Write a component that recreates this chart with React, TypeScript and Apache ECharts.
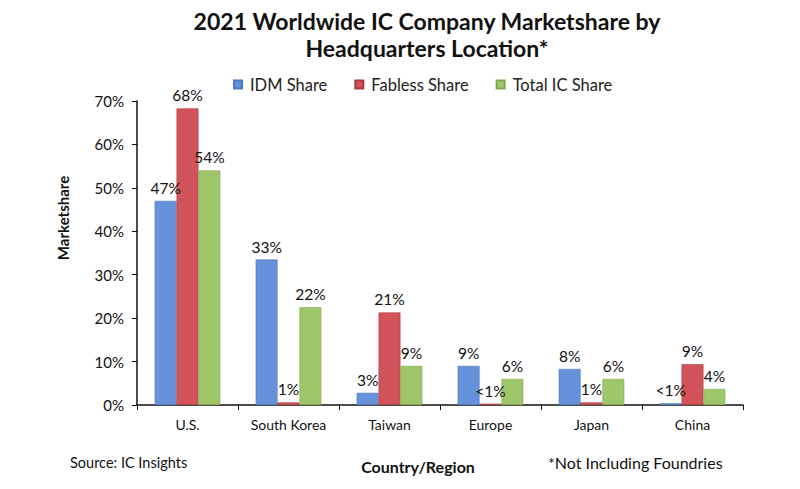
import React, { useEffect, useRef } from "react";
import * as echarts from "echarts";

const categories = ["U.S.", "South Korea", "Taiwan", "Europe", "Japan", "China"];
const idmShare = [47, 33.5, 2.8, 9, 8.3, 0.4];
const fablessShare = [68.3, 0.6, 21.3, 0.3, 0.6, 9.4];
const totalShare = [54, 22.5, 9, 6, 6, 3.7];
const idmLabels = ["47%", "33%", "3%", "9%", "8%", "<1%"];
const fablessLabels = ["68%", "1%", "21%", "<1%", "1%", "9%"];
const totalLabels = ["54%", "22%", "9%", "6%", "6%", "4%"];
const yTicks = [0, 10, 20, 30, 40, 50, 60, 70];

const FONT = "Lato, 'Open Sans', sans-serif";

export default function App() {
  const ref = useRef<HTMLDivElement>(null);
  useEffect(() => {
    if (!ref.current) return;
    const chart = echarts.init(ref.current, undefined, { renderer: "svg" });
    const mkSeries = (name: string, data: number[], labels: string[], color: string, border: string) => ({
      name,
      type: "bar",
      data,
      barGap: "0%",
      barCategoryGap: "35%",
      itemStyle: { color, borderColor: border, borderWidth: 0.6 },
      label: {
        show: true,
        position: "top",
        distance: 5,
        color: "#111",
        fontFamily: FONT,
        fontSize: 15.5,
        formatter: (p: any) => labels[p.dataIndex],
      },
    });
    chart.setOption({
      animation: false,
      backgroundColor: "#fff",
      textStyle: { fontFamily: FONT },
      title: {
        text: "2021 Worldwide IC Company Marketshare by\nHeadquarters Location*",
        left: 422,
        top: 2,
        textAlign: "center",
        textStyle: { fontFamily: FONT, fontWeight: "bold", fontSize: 23, lineHeight: 27, color: "#111" },
      },
      legend: {
        top: 71,
        left: 228,
        itemWidth: 8,
        itemHeight: 8,
        itemGap: 27,
        icon: "rect",
        textStyle: { fontFamily: FONT, fontSize: 16.5, color: "#222", padding: [0, 0, 0, 3] },
        data: ["IDM Share", "Fabless Share", "Total IC Share"],
      },
      grid: { left: 137, right: 57, top: 101, bottom: 84, containLabel: false, outerBoundsMode: "none" },
      xAxis: {
        type: "category",
        data: categories,
        axisLine: { lineStyle: { color: "#111", width: 1.5 } },
        axisTick: { show: true, length: 5, lineStyle: { color: "#111" }, alignWithLabel: false },
        axisLabel: { color: "#111", fontFamily: FONT, fontSize: 14, margin: 12 },
      },
      yAxis: {
        type: "value",
        min: 0,
        max: 70,
        interval: 10,
        axisLine: { show: true, lineStyle: { color: "#111", width: 1.5 } },
        axisTick: { show: true, inside: false, length: 5, lineStyle: { color: "#111" } },
        splitLine: { show: false },
        axisLabel: {
          color: "#111",
          fontFamily: FONT,
          fontSize: 15,
          margin: 13,
          formatter: (v: number) => (yTicks.includes(v) ? v + "%" : ""),
        },
      },
      graphic: [
        {
          type: "text",
          x: 63,
          y: 218,
          rotation: Math.PI / 2,
          style: {
            text: "Marketshare",
            fontFamily: FONT,
            fontSize: 15,
            fontWeight: "bold",
            fill: "#111",
            align: "center",
            verticalAlign: "middle",
          },
        },
        {
          type: "text",
          left: 70,
          top: 455,
          style: { text: "Source: IC Insights", fontFamily: FONT, fontSize: 14.5, fill: "#111" },
        },
        {
          type: "text",
          x: 418,
          y: 466,
          style: {
            text: "Country/Region",
            fontFamily: FONT,
            fontSize: 16,
            fontWeight: "bold",
            fill: "#111",
            align: "center",
            verticalAlign: "middle",
          },
        },
        {
          type: "text",
          left: 548,
          top: 454,
          style: { text: "*Not Including Foundries", fontFamily: FONT, fontSize: 16, fill: "#111" },
        },
      ],
      series: [
        mkSeries("IDM Share", idmShare, idmLabels, "#6592DA", "#4d78bd"),
        mkSeries("Fabless Share", fablessShare, fablessLabels, "#D2545A", "#a93a3f"),
        mkSeries("Total IC Share", totalShare, totalLabels, "#A0C66A", "#84a852"),
      ],
    });
    return () => chart.dispose();
  }, []);
  return <div ref={ref} style={{ width: 800, height: 489, position: "absolute", left: 0, top: 0 }} />;
}
